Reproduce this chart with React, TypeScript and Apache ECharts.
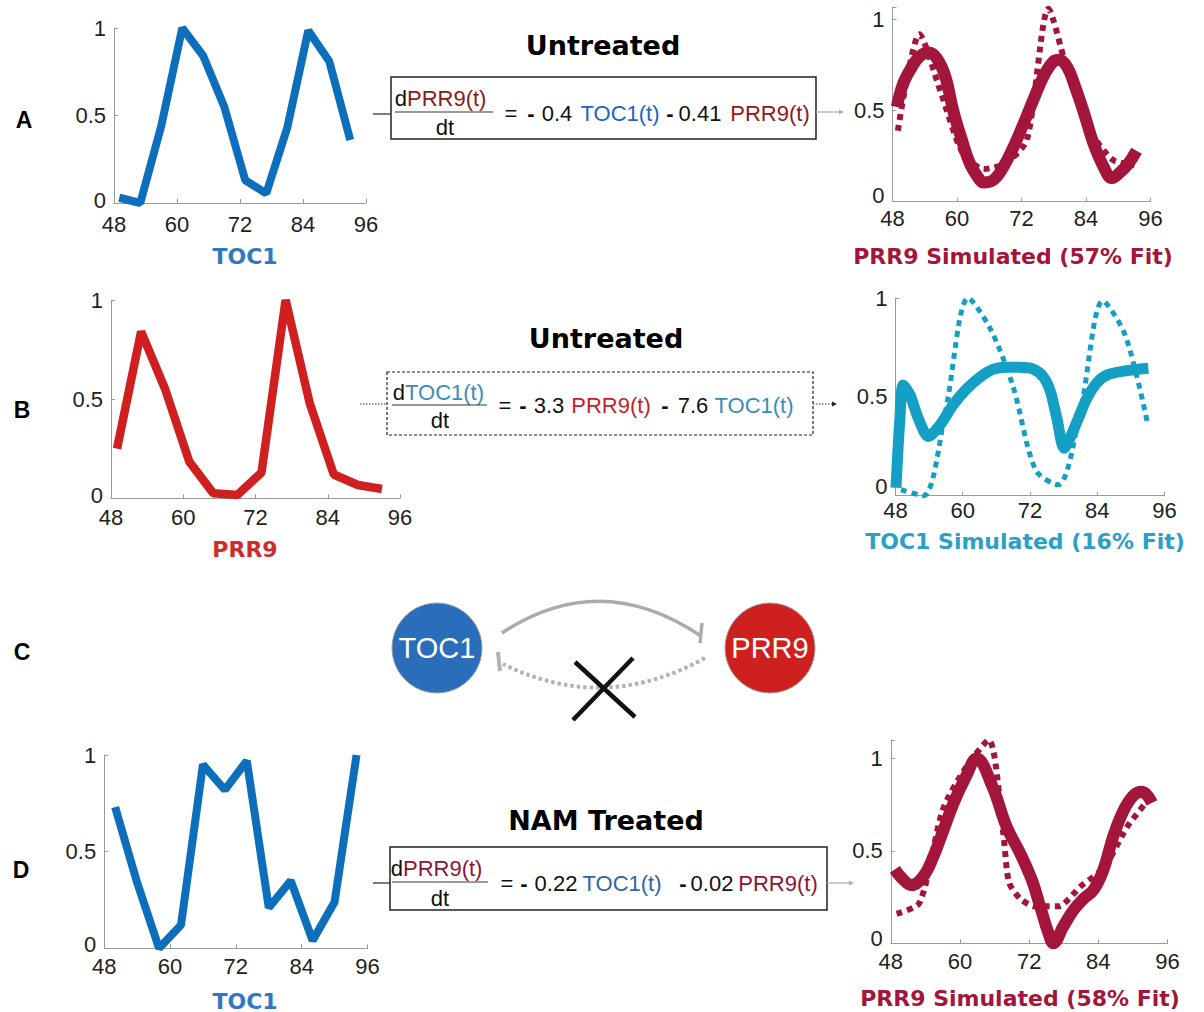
import React, { useEffect, useRef } from "react";
import * as echarts from "echarts";

// ---------- data ----------
const xTickValues = [48, 60, 72, 84, 96];
const yTickValues = [0, 0.5, 1];

const sampleHours = [49, 53, 57, 61, 65, 69, 73, 77, 81, 85, 89, 93];
const toc1Untreated = [0.03, 0.0, 0.44, 1.0, 0.84, 0.55, 0.13, 0.055, 0.43, 0.985, 0.81, 0.36];
const prr9Untreated = [0.25, 0.84, 0.55, 0.185, 0.025, 0.017, 0.13, 1.0, 0.48, 0.12, 0.067, 0.047];
const prr9DataA = [0.39, 0.92, 0.6, 0.27, 0.18, 0.21, 0.34, 1.06, 0.67, 0.38, 0.23, 0.2];

const simHoursA = [48.8, 50.0, 51.6, 53.1, 54.7, 56.2, 57.8, 59.3, 60.9, 62.4, 64.0, 64.9, 66.8, 68.6, 70.5, 72.4, 74.2, 76.1, 77.9, 79.0, 80.5, 82.0, 83.6, 85.4, 87.3, 88.8, 90.3, 91.9, 93.4];
const prr9SimA = [0.52, 0.65, 0.74, 0.8, 0.82, 0.79, 0.69, 0.5, 0.34, 0.21, 0.13, 0.105, 0.12, 0.19, 0.3, 0.43, 0.56, 0.69, 0.77, 0.78, 0.74, 0.63, 0.49, 0.32, 0.19, 0.13, 0.16, 0.21, 0.28];

const simHoursB = [48.1, 48.8, 49.4, 50.6, 52.1, 53.9, 56.0, 58.3, 60.7, 63.1, 65.5, 67.8, 70.2, 72.6, 74.4, 75.6, 76.8, 78.1, 79.1, 80.6, 82.1, 83.9, 85.7, 88.7, 93.1];
const toc1SimB = [0.04, 0.39, 0.56, 0.51, 0.39, 0.3, 0.36, 0.46, 0.54, 0.6, 0.64, 0.65, 0.65, 0.64, 0.6, 0.53, 0.39, 0.24, 0.29, 0.39, 0.49, 0.57, 0.61, 0.63, 0.645];

const namHours = [50, 54, 58, 62, 66, 70, 74, 78, 82, 86, 90, 94];
const toc1Nam = [0.73, 0.34, 0.0, 0.12, 0.95, 0.82, 0.97, 0.21, 0.35, 0.04, 0.24, 1.0];

const namFitHours = [49, 53, 57, 61, 65, 67.5, 68.5, 70.5, 73, 77, 81, 85, 89, 93];
const prr9NamData = [0.16, 0.22, 0.72, 0.95, 1.1, 0.6, 0.33, 0.24, 0.2, 0.2, 0.31, 0.41, 0.63, 0.79];

const simHoursD = [48.7, 50.0, 51.6, 53.6, 55.4, 57.1, 58.9, 61.0, 62.9, 65.6, 68.1, 70.4, 72.5, 73.9, 75.4, 76.2, 77.9, 79.7, 81.4, 83.2, 84.9, 86.6, 88.4, 90.1, 91.6, 93.3];
const prr9SimD = [0.4, 0.35, 0.315, 0.36, 0.47, 0.61, 0.76, 0.9, 1.0, 0.85, 0.63, 0.49, 0.34, 0.2, 0.05, 0.0, 0.09, 0.18, 0.24, 0.29, 0.4, 0.58, 0.72, 0.8, 0.82, 0.76];

// ---------- layout / style ----------
const panels = [
  { left: 114, top: 28, width: 252, height: 175, ymax: 1, xMargin: 10, zeroLift: 3 },
  { left: 892.5, top: 7, width: 258, height: 194.7, ymax: 1.07, xMargin: 6, zeroLift: 6 },
  { left: 111, top: 300, width: 289, height: 198.3, ymax: 1, xMargin: 8, zeroLift: 3 },
  { left: 895.4, top: 298, width: 269.2, height: 197.7, ymax: 1, xMargin: 4, zeroLift: 9 },
  { left: 104.2, top: 755, width: 263.3, height: 193.3, ymax: 1, xMargin: 7, zeroLift: 4 },
  { left: 890.8, top: 740, width: 276.7, height: 203.3, ymax: 1.1, xMargin: 7, zeroLift: 5 },
];

const BLUE = "#0d6fbb";
const RED = "#cf1f1f";
const MAROON = "#a3153a";
const TEAL = "#14a0c4";
const TICKFONT = '"Liberation Sans", Arial, sans-serif';
const BOLDFONT = '"DejaVu Sans", sans-serif';

const pairs = (xs: number[], ys: number[]) => xs.map((x, i) => [x, ys[i]]);

function txt(x: number, y: number, text: string, fill: string, font: string, align = "center") {
  return {
    type: "text",
    x,
    y,
    silent: true,
    style: {
      text,
      fill,
      font,
      textAlign: align,
      textVerticalAlign: "middle",
      align,
      verticalAlign: "middle",
    },
  };
}
function ln(x1: number, y1: number, x2: number, y2: number, stroke: string, lineWidth: number, lineDash?: number[]) {
  return {
    type: "line",
    silent: true,
    shape: { x1, y1, x2, y2 },
    style: { stroke, lineWidth, lineDash: lineDash || null, fill: "none" },
  };
}
function arrowHead(x: number, y: number, color: string) {
  return {
    type: "polygon",
    silent: true,
    shape: { points: [[x, y - 2.5], [x + 5, y], [x, y + 2.5]] },
    style: { fill: color },
  };
}

export default function App() {
  const ref = useRef<HTMLDivElement>(null);
  useEffect(() => {
    if (!ref.current) return;
    const chart = echarts.init(ref.current, undefined, { renderer: "svg" });

    const grid = panels.map((p) => ({
      left: p.left,
      top: p.top,
      width: p.width,
      height: p.height,
      outerBoundsMode: "none",
    }));
    const xAxis = panels.map((p, i) => ({
      type: "value",
      gridIndex: i,
      min: xTickValues[0],
      max: xTickValues[xTickValues.length - 1],
      interval: 12,
      axisLine: { show: true, lineStyle: { color: "#9a9a9a", width: 1 } },
      axisTick: { show: true, inside: true, length: 4, lineStyle: { color: "#9a9a9a" } },
      splitLine: { show: false },
      axisLabel: { color: "#222", fontSize: 22, fontFamily: TICKFONT, margin: p.xMargin },
    }));
    const yAxis = panels.map((p, i) => ({
      type: "value",
      gridIndex: i,
      min: 0,
      max: p.ymax,
      interval: 0.5,
      axisLine: { show: true, lineStyle: { color: "#9a9a9a", width: 1 } },
      axisTick: { show: true, inside: true, length: 4, lineStyle: { color: "#9a9a9a" } },
      splitLine: { show: false },
      axisLabel: {
        color: "#222",
        fontSize: 22,
        fontFamily: TICKFONT,
        margin: 8,
        formatter: (v: number) => {
          if (!yTickValues.some((t) => Math.abs(t - v) < 1e-6)) return "";
          if (Math.abs(v) < 1e-9) return "{z|0}";
          return String(v);
        },
        rich: {
          z: {
            fontSize: 22,
            fontFamily: TICKFONT,
            color: "#222",
            padding: [0, 0, p.zeroLift * 2, 0],
          },
        },
      },
    }));

    const base = { type: "line", showSymbol: false, symbol: "none", silent: true, clip: false, animation: false };
    const series = [
      { ...base, xAxisIndex: 0, yAxisIndex: 0, data: pairs(sampleHours, toc1Untreated), lineStyle: { color: BLUE, width: 8 } },
      { ...base, xAxisIndex: 1, yAxisIndex: 1, smooth: 0.4, data: pairs(simHoursA, prr9SimA), lineStyle: { color: MAROON, width: 12 } },
      { ...base, xAxisIndex: 1, yAxisIndex: 1, smooth: 0.25, data: pairs(sampleHours, prr9DataA), lineStyle: { color: MAROON, width: 6, type: [6, 5] } },
      { ...base, xAxisIndex: 2, yAxisIndex: 2, data: pairs(sampleHours, prr9Untreated), lineStyle: { color: RED, width: 8.5 } },
      { ...base, xAxisIndex: 3, yAxisIndex: 3, smooth: 0.3, data: pairs(simHoursB, toc1SimB), lineStyle: { color: TEAL, width: 11 } },
      { ...base, xAxisIndex: 3, yAxisIndex: 3, smooth: 0.3, data: pairs(sampleHours, toc1Untreated), lineStyle: { color: TEAL, width: 5, type: [6, 5] } },
      { ...base, xAxisIndex: 4, yAxisIndex: 4, data: pairs(namHours, toc1Nam), lineStyle: { color: BLUE, width: 8 } },
      { ...base, xAxisIndex: 5, yAxisIndex: 5, smooth: 0.4, data: pairs(simHoursD, prr9SimD), lineStyle: { color: MAROON, width: 12 } },
      { ...base, xAxisIndex: 5, yAxisIndex: 5, smooth: 0.25, data: pairs(namFitHours, prr9NamData), lineStyle: { color: MAROON, width: 6, type: [6, 5] } },
    ];

    const EQ = '22px "Liberation Sans", Arial, sans-serif';
    const EQB = 'bold 22px "Liberation Sans", Arial, sans-serif';
    const TITLE = `bold 27px ${BOLDFONT}`;
    const SUB = `bold 22px ${BOLDFONT}`;
    const LETTER = 'bold 23px "Liberation Sans", Arial, sans-serif';

    const graphic: any[] = [
      // panel letters
      txt(24, 120, "A", "#000", LETTER),
      txt(22, 410, "B", "#000", LETTER),
      txt(22, 652, "C", "#000", LETTER),
      txt(21, 870, "D", "#000", LETTER),
      // titles
      txt(603, 45, "Untreated", "#000", TITLE),
      txt(606, 338, "Untreated", "#000", TITLE),
      txt(606, 820, "NAM Treated", "#000", TITLE),
      // axis captions
      txt(245, 256, "TOC1", "#2f78c4", SUB),
      txt(1013, 256, "PRR9 Simulated (57% Fit)", MAROON, SUB),
      txt(245, 549, "PRR9", "#d02a2a", SUB),
      txt(1025, 541, "TOC1 Simulated (16% Fit)", "#2aa0c8", SUB),
      txt(245, 1001, "TOC1", "#2f78c4", SUB),
      txt(1020, 998, "PRR9 Simulated (58% Fit)", MAROON, SUB),

      // ---- equation A ----
      { type: "rect", silent: true, shape: { x: 391, y: 77, width: 425, height: 62 }, style: { fill: "none", stroke: "#222", lineWidth: 1.5 } },
      ln(373, 114, 391, 114, "#333", 1.3),
      ln(816, 112, 840, 112, "#b0b0b0", 1.3),
      arrowHead(839, 112, "#b0b0b0"),
      txt(407, 98, "d", "#111", EQ, "right"),
      txt(407, 98, "PRR9(t)", "#8b1a1a", EQ, "left"),
      ln(395, 112, 493, 112, "#333", 1),
      txt(445, 127, "dt", "#111", EQ),
      txt(511, 113, "=", "#111", EQ),
      txt(531, 113, "-", "#111", EQB),
      txt(557, 113, "0.4", "#111", EQ),
      txt(620, 113, "TOC1(t)", "#1f63c6", EQ),
      txt(670, 113, "-", "#111", EQB),
      txt(700, 113, "0.41", "#111", EQ),
      txt(770, 113, "PRR9(t)", "#8b1a1a", EQ),

      // ---- equation B ----
      { type: "rect", silent: true, shape: { x: 387, y: 372, width: 426, height: 63 }, style: { fill: "none", stroke: "#222", lineWidth: 1.2, lineDash: [3, 2] } },
      ln(360, 404, 387, 404, "#333", 1.2, [1.5, 1.5]),
      ln(813, 404, 832, 404, "#333", 1.2, [1.5, 1.5]),
      arrowHead(832, 404, "#222"),
      txt(405, 392, "d", "#111", EQ, "right"),
      txt(405, 392, "TOC1(t)", "#3a8db8", EQ, "left"),
      ln(392, 405, 487, 405, "#333", 1),
      txt(440, 420, "dt", "#111", EQ),
      txt(505, 405, "=", "#111", EQ),
      txt(523, 405, "-", "#111", EQB),
      txt(549, 405, "3.3", "#111", EQ),
      txt(611, 405, "PRR9(t)", "#c41f2b", EQ),
      txt(665, 405, "-", "#111", EQB),
      txt(693, 405, "7.6", "#111", EQ),
      txt(754, 405, "TOC1(t)", "#3a8db8", EQ),

      // ---- equation D ----
      { type: "rect", silent: true, shape: { x: 390, y: 847, width: 437, height: 63 }, style: { fill: "none", stroke: "#222", lineWidth: 1.5 } },
      ln(373, 883, 390, 883, "#333", 1.3),
      ln(827, 883, 850, 883, "#b0b0b0", 1.3),
      arrowHead(849, 883, "#b0b0b0"),
      txt(403, 868, "d", "#111", EQ, "right"),
      txt(403, 868, "PRR9(t)", "#8c1536", EQ, "left"),
      ln(392, 882, 488, 882, "#333", 1),
      txt(440, 898, "dt", "#111", EQ),
      txt(507, 883, "=", "#111", EQ),
      txt(524, 883, "-", "#111", EQB),
      txt(556, 883, "0.22", "#111", EQ),
      txt(622, 883, "TOC1(t)", "#2f64a6", EQ),
      txt(683, 883, "-", "#111", EQB),
      txt(712, 883, "0.02", "#111", EQ),
      txt(778, 883, "PRR9(t)", "#8c1536", EQ),

      // ---- panel C network ----
      { type: "bezierCurve", silent: true, shape: { x1: 502, y1: 633, x2: 701, y2: 636, cpx1: 600, cpy1: 568 }, style: { stroke: "#ababab", lineWidth: 3.5, fill: "none" } },
      ln(702, 623, 700, 643, "#ababab", 3.5),
      { type: "bezierCurve", silent: true, shape: { x1: 705, y1: 658, x2: 503, y2: 664, cpx1: 604, cpy1: 714 }, style: { stroke: "#b3b3b3", lineWidth: 4, fill: "none", lineDash: [3.5, 3] } },
      ln(498, 652, 500, 671, "#b3b3b3", 4),
      ln(575, 662, 635, 717, "#111", 4.5),
      ln(633, 658, 573, 720, "#111", 4.5),
      { type: "circle", silent: true, shape: { cx: 437, cy: 648, r: 45 }, style: { fill: "#2a6ebb", stroke: "#a0a0a0", lineWidth: 1 } },
      { type: "circle", silent: true, shape: { cx: 770, cy: 648, r: 45 }, style: { fill: "#cf2020", stroke: "#a0a0a0", lineWidth: 1 } },
      txt(437, 648, "TOC1", "#fff", '29px "Liberation Sans", Arial, sans-serif'),
      txt(770, 648, "PRR9", "#fff", '29px "Liberation Sans", Arial, sans-serif'),
    ];

    chart.setOption({
      animation: false,
      backgroundColor: "#fff",
      grid,
      xAxis,
      yAxis,
      series,
      graphic: { elements: graphic },
    });
    return () => chart.dispose();
  }, []);

  return (
    <div
      ref={ref}
      style={{ position: "absolute", left: 0, top: 0, width: 1204, height: 1012, background: "#fff" }}
    />
  );
}
